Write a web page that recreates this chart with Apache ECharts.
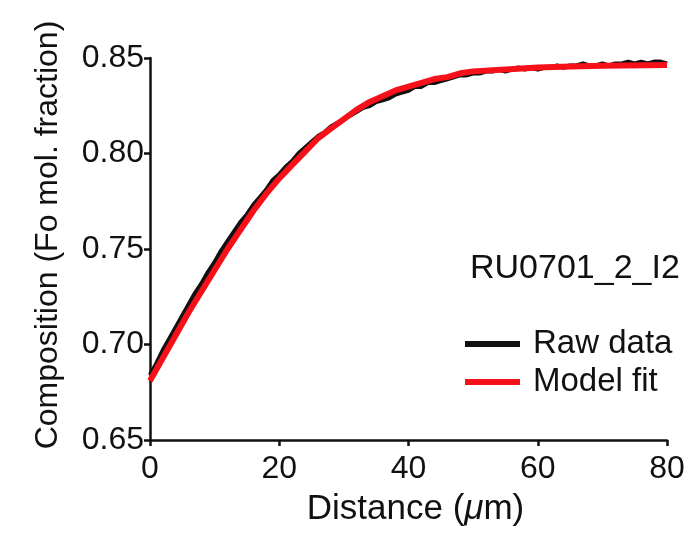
<!DOCTYPE html>
<html>
<head>
<meta charset="utf-8">
<script src="https://cdn.jsdelivr.net/npm/echarts@6/dist/echarts.min.js"></script>
<style>
html,body{margin:0;padding:0;background:#fff;}
#chart{width:694px;height:534px;}
</style>
</head>
<body>
<div id="chart"></div>
<script>
// Data
const rawDistance = [0,1,2,3,4,5,6,7,8,9,10,11,12,13,14,15,16,17,18,19,20,21,22,23,24,25,26,27,28,29,30,31,32,33,34,35,36,37,38,39,40,41,42,43,44,45,46,47,48,49,50,51,52,53,54,55,56,57,58,59,60,61,62,63,64,65,66,67,68,69,70,71,72,73,74,75,76,77,78,79,80];
const rawComposition = [0.684,0.690,0.697,0.703,0.709,0.715,0.721,0.727,0.732,0.738,0.743,0.749,0.754,0.759,0.764,0.768,0.773,0.777,0.781,0.786,0.789,0.793,0.796,0.800,0.803,0.806,0.809,0.811,0.814,0.816,0.818,0.820,0.822,0.824,0.825,0.827,0.828,0.829,0.831,0.832,0.833,0.835,0.835,0.837,0.837,0.838,0.839,0.840,0.841,0.841,0.842,0.842,0.843,0.843,0.844,0.843,0.844,0.845,0.844,0.845,0.844,0.845,0.845,0.846,0.845,0.846,0.846,0.847,0.846,0.846,0.847,0.846,0.847,0.847,0.848,0.847,0.848,0.847,0.848,0.848,0.847];
const modelDistance = [0,2,4,6,8,10,12,14,16,18,20,22,24,26,28,30,32,34,36,38,40,42,44,46,48,50,55,60,65,70,80];
const modelComposition = [0.681,0.693,0.705,0.717,0.728,0.739,0.750,0.760,0.770,0.779,0.787,0.794,0.801,0.808,0.813,0.818,0.823,0.827,0.830,0.833,0.835,0.837,0.839,0.840,0.842,0.843,0.844,0.845,0.8455,0.846,0.8463];
const xTicks = [0,20,40,60,80];
const yTicks = [0.65,0.70,0.75,0.80,0.85];
const sampleLabel = 'RU0701_2_I2';

const chart = echarts.init(document.getElementById('chart'), null, {renderer:'canvas'});
const font = 'Liberation Sans, Arial, Helvetica, sans-serif';
const axisCol = '#111';

chart.setOption({
  animation:false,
  backgroundColor:'#fff',
  textStyle:{fontFamily:font},
  title:{
    text:sampleLabel, left:470, top:252, padding:0,
    textStyle:{fontFamily:font, fontSize:34, fontWeight:'normal', color:'#111'}
  },
  legend:{
    left:465, top:327, orient:'vertical', padding:0,
    itemWidth:55, itemHeight:6, itemGap:4, icon:'rect',
    textStyle:{fontFamily:font, fontSize:33, color:'#111', lineHeight:34, padding:[0,0,0,8]},
    data:['Raw data','Model fit']
  },
  grid:{left:150, right:27, top:58, bottom:94, containLabel:false, outerBoundsMode:'none'},
  xAxis:{
    type:'value', min:xTicks[0], max:xTicks[xTicks.length-1], interval:20,
    name:'Distance ({i|μ}m)', nameLocation:'middle', nameGap:52,
    nameTextStyle:{fontFamily:font, fontSize:35, color:'#111', padding:[0,0,0,14],
      rich:{i:{fontStyle:'italic', fontSize:35, fontFamily:font, color:'#111'}}},
    axisLine:{show:true, onZero:false, lineStyle:{color:axisCol, width:2.5}},
    axisTick:{show:true, inside:false, length:6, lineStyle:{color:axisCol, width:2.5}},
    axisLabel:{fontFamily:font, fontSize:32, color:'#111', margin:13},
    splitLine:{show:false}
  },
  yAxis:{
    type:'value', min:yTicks[0], max:yTicks[yTicks.length-1], interval:0.05,
    name:'Composition (Fo mol. fraction)', nameLocation:'middle', nameGap:86, nameRotate:90,
    nameTextStyle:{fontFamily:font, fontSize:32, color:'#111', padding:[0,0,0,28]},
    axisLine:{show:true, onZero:false, lineStyle:{color:axisCol, width:2.5}},
    axisTick:{show:true, inside:false, length:6, lineStyle:{color:axisCol, width:2.5}},
    axisLabel:{fontFamily:font, fontSize:32, color:'#111', margin:6,
      formatter:function(v){return v.toFixed(2);}},
    splitLine:{show:false}
  },
  series:[
    {
      name:'Raw data', type:'line', showSymbol:false, symbol:'none',
      data:rawDistance.map((d,i)=>[d, rawComposition[i]]),
      lineStyle:{color:'#111', width:4.5}, itemStyle:{color:'#111'}, z:2
    },
    {
      name:'Model fit', type:'line', showSymbol:false, symbol:'none', smooth:false,
      data:modelDistance.map((d,i)=>[d, modelComposition[i]]),
      lineStyle:{color:'#f5101a', width:6}, itemStyle:{color:'#f5101a'}, z:3
    }
  ]
});
</script>
</body>
</html>
